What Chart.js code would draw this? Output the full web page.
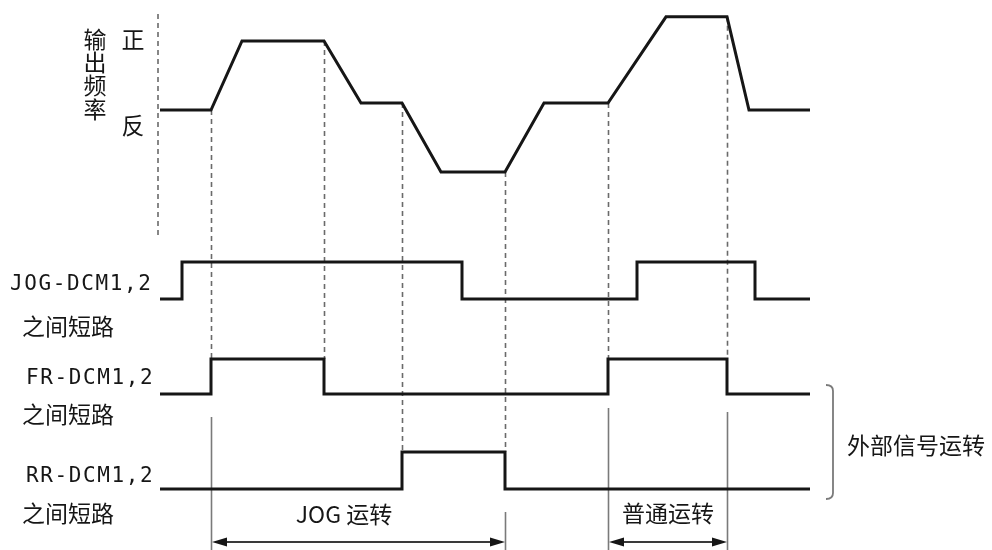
<!DOCTYPE html>
<html>
<head>
<meta charset="utf-8">
<script src="https://cdn.jsdelivr.net/npm/chart.js@4.4.1/dist/chart.umd.min.js"></script>
<style>
  html, body { margin: 0; padding: 0; background: #fff; }
</style>
</head>
<body>
<canvas id="chart" width="992" height="550"></canvas>
<script>
// timing diagram: output frequency vs. JOG / FR / RR terminal signals

// output frequency: time points and value (0 = stopped, + forward, - reverse)
const freq_t = [0, 5.1, 8.2, 16.4, 20.1, 24.2, 28.1, 34.5, 38.4, 44.8, 50.6, 56.7, 58.9, 65];
const freq_v = [0, 0, 10, 10, 1, 1, -9, -9, 1, 1, 13.5, 13.5, 0, 0];

// signals: times where the level changes, and the level from that time on
const jog_t = [0, 2.2, 30.2, 47.7, 59.5, 65];
const jog_v = [0, 1, 0, 1, 0, 0];
const fr_t = [0, 5.1, 16.4, 44.8, 56.7, 65];
const fr_v = [0, 1, 0, 1, 0, 0];
const rr_t = [0, 24.2, 34.5, 65];
const rr_v = [0, 1, 0, 0];

// labels
const signal_names = ["JOG-DCM1,2", "FR-DCM1,2", "RR-DCM1,2"];
const short_label = "之间短路";
const freq_label = "输出频率";
const level_labels = ["正", "反"];
const span_labels = ["JOG 运转", "普通运转"];
const group_label = "外部信号运转";

// some layout
const W = 992, H = 550;
const INK = "#161616";
const CJK = "'Noto Sans CJK SC', 'Noto Sans', sans-serif";
const MONO = "'DejaVu Sans Mono', monospace";

// pick min/max so that value 0 lands on px_zero and each unit is ppu pixels
function y_range(px_zero, ppu) {
  const max = px_zero / ppu;
  return { min: max - H / ppu, max: max };
}

function pts(ts, vs) {
  return ts.map((t, i) => ({ x: t, y: vs[i] }));
}

function line_ds(data, axis, stepped) {
  return {
    data: data,
    yAxisID: axis,
    showLine: true,
    stepped: stepped,
    borderColor: INK,
    borderWidth: 3,
    pointRadius: 0,
    fill: false,
    clip: false,
    borderJoinStyle: "miter"
  };
}

// dashed guides: index into freq_t, and the signal row it drops to
const guides = [[1, "yfr"], [3, "yfr"], [5, "yrr"], [7, "yrr"], [9, "yfr"], [11, "yfr"]];

const decor = {
  id: "decor",
  beforeDatasetsDraw(chart) {
    const ctx = chart.ctx;
    const x = chart.scales.x;
    const yf = chart.scales.yf;
    ctx.save();
    ctx.strokeStyle = "#6a6a6a";
    ctx.lineWidth = 1.6;
    ctx.setLineDash([5, 4]);
    // frequency axis
    const ax = x.getPixelForValue(-0.2);
    ctx.beginPath();
    ctx.moveTo(ax, 14);
    ctx.lineTo(ax, 238);
    ctx.stroke();
    // guides from the curve down to the signal edge
    for (const [i, row] of guides) {
      const gx = Math.round(x.getPixelForValue(freq_t[i])) + 0.5;
      ctx.beginPath();
      ctx.moveTo(gx, yf.getPixelForValue(freq_v[i]));
      ctx.lineTo(gx, chart.scales[row].getPixelForValue(1));
      ctx.stroke();
    }
    ctx.setLineDash([]);
    // solid extension lines for the span arrows
    ctx.strokeStyle = "#7a7a7a";
    const ext = [[freq_t[1], 417], [freq_t[7], 512], [freq_t[9], 408], [freq_t[11], 412]];
    for (const [t, top] of ext) {
      const ex = Math.round(x.getPixelForValue(t)) + 0.5;
      ctx.beginPath();
      ctx.moveTo(ex, top);
      ctx.lineTo(ex, H);
      ctx.stroke();
    }
    ctx.restore();
  },
  afterDraw(chart) {
    const ctx = chart.ctx;
    const x = chart.scales.x;
    ctx.save();
    ctx.fillStyle = INK;
    ctx.textBaseline = "middle";

    // vertical frequency label and level marks
    ctx.font = "23px " + CJK;
    ctx.textAlign = "center";
    [...freq_label].forEach((c, i) => ctx.fillText(c, 95, 39 + i * 23.3));
    ctx.fillText(level_labels[0], 133, 39);
    ctx.fillText(level_labels[1], 133, 125);

    // signal names
    ctx.textAlign = "left";
    const rows = [[10, 285, 326], [26, 379, 414], [26, 477, 513]];
    rows.forEach((r, i) => {
      ctx.font = "21px " + MONO;
      ctx.letterSpacing = "1.6px";
      ctx.fillText(signal_names[i], r[0], r[1]);
      ctx.letterSpacing = "0px";
      ctx.font = "23px " + CJK;
      ctx.fillText(short_label, 22, r[2]);
    });

    // span arrows
    const spans = [[freq_t[1], freq_t[7]], [freq_t[9], freq_t[11]]];
    const ay = 542;
    ctx.strokeStyle = "#3a3a3a";
    ctx.fillStyle = INK;
    ctx.lineWidth = 2;
    spans.forEach((s, i) => {
      const x0 = Math.round(x.getPixelForValue(s[0])) + 1;
      const x1 = Math.round(x.getPixelForValue(s[1]));
      ctx.beginPath();
      ctx.moveTo(x0 + 8, ay);
      ctx.lineTo(x1 - 8, ay);
      ctx.stroke();
      ctx.beginPath();
      ctx.moveTo(x0, ay);
      ctx.lineTo(x0 + 15, ay - 4.5);
      ctx.lineTo(x0 + 15, ay + 4.5);
      ctx.closePath();
      ctx.fill();
      ctx.beginPath();
      ctx.moveTo(x1, ay);
      ctx.lineTo(x1 - 15, ay - 4.5);
      ctx.lineTo(x1 - 15, ay + 4.5);
      ctx.closePath();
      ctx.fill();
    });
    ctx.font = "23px " + CJK;
    ctx.textAlign = "center";
    ctx.fillText(span_labels[0], 344, 514);
    ctx.fillText(span_labels[1], 668, 513);

    // bracket for the external signal group
    ctx.strokeStyle = "#7a7a7a";
    ctx.lineWidth = 1.8;
    ctx.beginPath();
    ctx.moveTo(826, 385);
    ctx.quadraticCurveTo(833, 385, 833, 391);
    ctx.lineTo(833, 493);
    ctx.quadraticCurveTo(833, 499, 826, 499);
    ctx.stroke();
    ctx.textAlign = "left";
    ctx.fillText(group_label, 847, 445);
    ctx.restore();
  }
};

const config = {
  type: "scatter",
  data: {
    datasets: [
      line_ds(pts(freq_t, freq_v), "yf", false),
      line_ds(pts(jog_t, jog_v), "yj", true),
      line_ds(pts(fr_t, fr_v), "yfr", true),
      line_ds(pts(rr_t, rr_v), "yrr", true)
    ]
  },
  options: {
    responsive: false,
    animation: false,
    layout: { padding: 0 },
    plugins: {
      legend: { display: false },
      tooltip: { enabled: false }
    },
    scales: {
      x: { type: "linear", display: false, min: -16, max: -16 + W / 10 },
      yf: Object.assign({ type: "linear", display: false }, y_range(110, 6.9)),
      yj: Object.assign({ type: "linear", display: false }, y_range(299, 37)),
      yfr: Object.assign({ type: "linear", display: false }, y_range(394, 35)),
      yrr: Object.assign({ type: "linear", display: false }, y_range(489, 37))
    }
  },
  plugins: [decor]
};

new Chart(document.getElementById("chart").getContext("2d"), config);
</script>
</body>
</html>
